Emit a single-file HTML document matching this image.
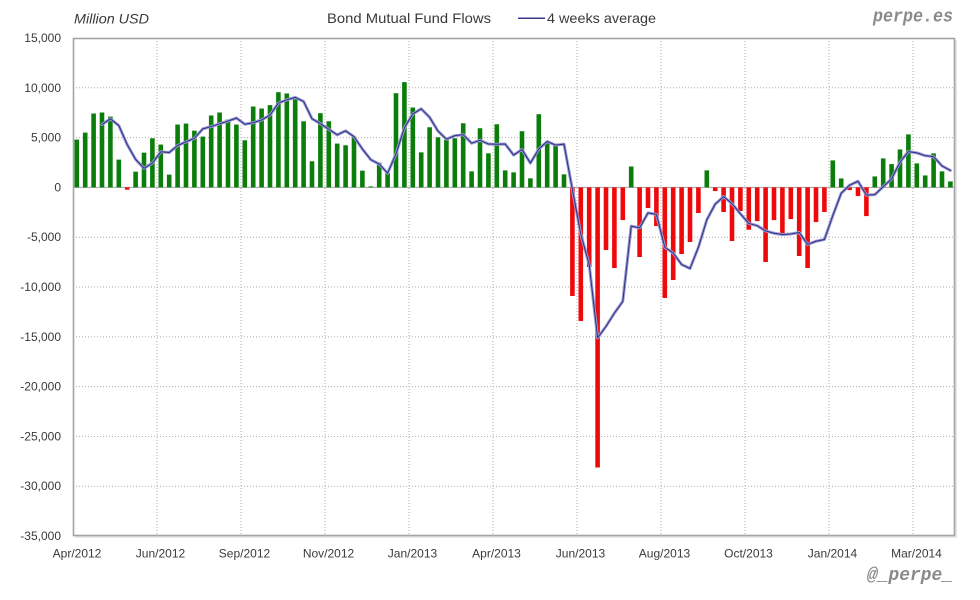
<!DOCTYPE html>
<html>
<head>
<meta charset="utf-8">
<style>
html,body{margin:0;padding:0;background:#fff;}
svg{display:block;}
.t{font-family:"Liberation Sans",Arial,sans-serif;fill:#3a3a3a;}
.m{font-family:"Liberation Mono","DejaVu Sans Mono",monospace;font-weight:bold;font-style:italic;fill:#8a8a8a;}
</style>
</head>
<body>
<svg width="980" height="600" viewBox="0 0 980 600" xmlns="http://www.w3.org/2000/svg">
<defs>
<polyline id="avg" points="102,124.55 110.4,118.8 118.8,125.55 127.2,144.6 135.6,159.39 144,168.4 152.4,163.07 160.8,151.79 169.2,152.54 177.6,145.52 186,141.83 194.4,138.35 202.8,128.84 211.2,126.57 219.6,123.81 228,121.04 236.4,118.03 244.8,124.23 253.2,122.74 261.6,119.97 270,115.12 278.4,103.09 286.8,99.83 295.2,97.41 303.6,101.45 312,118.73 320.4,123.66 328.8,129.26 337.2,134.84 345.6,130.83 354,136.68 362.4,149.03 370.8,159.74 379.2,164.09 387.6,173.21 396,153.83 404.4,127.76 412.8,113.97 421.2,108.79 429.6,117.31 438,131.1 446.4,139.19 454.8,135.68 463.2,134.69 471.6,143.2 480,140.29 488.4,144.05 496.8,144.3 505.2,144.05 513.6,155.08 522,149.55 530.4,163.07 538.8,149.03 547.2,141.51 555.6,145.09 564,144.1 572.4,189.54 580.8,234.21 589.2,264.56 597.6,337.85 606,326.37 614.4,313.12 622.8,301.39 631.2,226.14 639.6,227.89 648,212.9 656.4,214.39 664.8,247.26 673.2,253.01 681.6,264.52 690,268.5 698.4,247.26 706.8,219.84 715.2,204.11 723.6,196.61 732,203.61 740.4,213.77 748.8,223.43 757.2,225.7 765.6,230.95 774,233.22 782.4,234.46 790.8,233.96 799.2,232.47 807.6,244.45 816,241.28 824.4,239.52 832.8,215.61 841.2,193.23 849.6,185.23 858,181.25 866.4,195.17 874.8,194.67 883.2,186.75 891.6,178.76 900,162.1 908.4,151.59 916.8,152.84 925.2,155.68 933.6,156.67 942,165.91 950.4,170.42"/>
</defs>
<rect width="980" height="600" fill="#fff"/>
<rect x="75" y="40" width="882" height="498" fill="#e6e6e6"/>
<rect x="73" y="38" width="882" height="498" fill="#fff"/>
<g stroke="#adadad" stroke-width="1" stroke-dasharray="1,2" fill="none">
<line x1="73" y1="87.8" x2="955" y2="87.8"/>
<line x1="73" y1="137.6" x2="955" y2="137.6"/>
<line x1="73" y1="237.2" x2="955" y2="237.2"/>
<line x1="73" y1="287" x2="955" y2="287"/>
<line x1="73" y1="336.8" x2="955" y2="336.8"/>
<line x1="73" y1="386.6" x2="955" y2="386.6"/>
<line x1="73" y1="436.4" x2="955" y2="436.4"/>
<line x1="73" y1="486.2" x2="955" y2="486.2"/>
<line x1="157" y1="38" x2="157" y2="536"/>
<line x1="241" y1="38" x2="241" y2="536"/>
<line x1="325" y1="38" x2="325" y2="536"/>
<line x1="409" y1="38" x2="409" y2="536"/>
<line x1="493" y1="38" x2="493" y2="536"/>
<line x1="577" y1="38" x2="577" y2="536"/>
<line x1="661" y1="38" x2="661" y2="536"/>
<line x1="745" y1="38" x2="745" y2="536"/>
<line x1="829" y1="38" x2="829" y2="536"/>
<line x1="913" y1="38" x2="913" y2="536"/>
</g>
<line x1="73" y1="187.4" x2="955" y2="187.4" stroke="#a0a0a0" stroke-width="1"/>

<g transform="translate(68.4,187.4) scale(8.4,-0.00996)">
<g fill="#0b7d0b">
<rect x="0.726" y="0" width=".548" height="4800"/>
<rect x="1.726" y="0" width=".548" height="5500"/>
<rect x="2.726" y="0" width=".548" height="7420"/>
<rect x="3.726" y="0" width=".548" height="7520"/>
<rect x="4.726" y="0" width=".548" height="7110"/>
<rect x="5.726" y="0" width=".548" height="2790"/>
<rect x="7.726" y="0" width=".548" height="1580"/>
<rect x="8.726" y="0" width=".548" height="3490"/>
<rect x="9.726" y="0" width=".548" height="4930"/>
<rect x="10.726" y="0" width=".548" height="4300"/>
<rect x="11.726" y="0" width=".548" height="1280"/>
<rect x="12.726" y="0" width=".548" height="6310"/>
<rect x="13.726" y="0" width=".548" height="6410"/>
<rect x="14.726" y="0" width=".548" height="5700"/>
<rect x="15.726" y="0" width=".548" height="5100"/>
<rect x="16.726" y="0" width=".548" height="7220"/>
<rect x="17.726" y="0" width=".548" height="7520"/>
<rect x="18.726" y="0" width=".548" height="6810"/>
<rect x="19.726" y="0" width=".548" height="6310"/>
<rect x="20.726" y="0" width=".548" height="4730"/>
<rect x="21.726" y="0" width=".548" height="8120"/>
<rect x="22.726" y="0" width=".548" height="7920"/>
<rect x="23.726" y="0" width=".548" height="8260"/>
<rect x="24.726" y="0" width=".548" height="9560"/>
<rect x="25.726" y="0" width=".548" height="9430"/>
<rect x="26.726" y="0" width=".548" height="8890"/>
<rect x="27.726" y="0" width=".548" height="6640"/>
<rect x="28.726" y="0" width=".548" height="2620"/>
<rect x="29.726" y="0" width=".548" height="7450"/>
<rect x="30.726" y="0" width=".548" height="6640"/>
<rect x="31.726" y="0" width=".548" height="4400"/>
<rect x="32.726" y="0" width=".548" height="4230"/>
<rect x="33.726" y="0" width=".548" height="5100"/>
<rect x="34.726" y="0" width=".548" height="1680"/>
<rect x="35.726" y="0" width=".548" height="100"/>
<rect x="36.726" y="0" width=".548" height="2480"/>
<rect x="37.726" y="0" width=".548" height="1440"/>
<rect x="38.726" y="0" width=".548" height="9460"/>
<rect x="39.726" y="0" width=".548" height="10570"/>
<rect x="40.726" y="0" width=".548" height="8020"/>
<rect x="41.726" y="0" width=".548" height="3520"/>
<rect x="42.726" y="0" width=".548" height="6040"/>
<rect x="43.726" y="0" width=".548" height="5030"/>
<rect x="44.726" y="0" width=".548" height="4770"/>
<rect x="45.726" y="0" width=".548" height="4930"/>
<rect x="46.726" y="0" width=".548" height="6440"/>
<rect x="47.726" y="0" width=".548" height="1610"/>
<rect x="48.726" y="0" width=".548" height="5940"/>
<rect x="49.726" y="0" width=".548" height="3420"/>
<rect x="50.726" y="0" width=".548" height="6340"/>
<rect x="51.726" y="0" width=".548" height="1710"/>
<rect x="52.726" y="0" width=".548" height="1510"/>
<rect x="53.726" y="0" width=".548" height="5640"/>
<rect x="54.726" y="0" width=".548" height="910"/>
<rect x="55.726" y="0" width=".548" height="7350"/>
<rect x="56.726" y="0" width=".548" height="4530"/>
<rect x="57.726" y="0" width=".548" height="4200"/>
<rect x="58.726" y="0" width=".548" height="1310"/>
<rect x="66.726" y="0" width=".548" height="2100"/>
<rect x="75.726" y="0" width=".548" height="1710"/>
<rect x="90.726" y="0" width=".548" height="2710"/>
<rect x="91.726" y="0" width=".548" height="900"/>
<rect x="95.726" y="0" width=".548" height="1100"/>
<rect x="96.726" y="0" width=".548" height="2910"/>
<rect x="97.726" y="0" width=".548" height="2340"/>
<rect x="98.726" y="0" width=".548" height="3810"/>
<rect x="99.726" y="0" width=".548" height="5320"/>
<rect x="100.726" y="0" width=".548" height="2410"/>
<rect x="101.726" y="0" width=".548" height="1200"/>
<rect x="102.726" y="0" width=".548" height="3410"/>
<rect x="103.726" y="0" width=".548" height="1610"/>
<rect x="104.726" y="0" width=".548" height="600"/>
</g>
<g fill="#ee0a0a">
<rect x="6.726" y="-230" width=".548" height="230"/>
<rect x="59.726" y="-10900" width=".548" height="10900"/>
<rect x="60.726" y="-13410" width=".548" height="13410"/>
<rect x="61.726" y="-7990" width=".548" height="7990"/>
<rect x="62.726" y="-28120" width=".548" height="28120"/>
<rect x="63.726" y="-6290" width=".548" height="6290"/>
<rect x="64.726" y="-8090" width=".548" height="8090"/>
<rect x="65.726" y="-3280" width=".548" height="3280"/>
<rect x="67.726" y="-6990" width=".548" height="6990"/>
<rect x="68.726" y="-2070" width=".548" height="2070"/>
<rect x="69.726" y="-3880" width=".548" height="3880"/>
<rect x="70.726" y="-11100" width=".548" height="11100"/>
<rect x="71.726" y="-9300" width=".548" height="9300"/>
<rect x="72.726" y="-6690" width=".548" height="6690"/>
<rect x="73.726" y="-5480" width=".548" height="5480"/>
<rect x="74.726" y="-2570" width=".548" height="2570"/>
<rect x="76.726" y="-370" width=".548" height="370"/>
<rect x="77.726" y="-2470" width=".548" height="2470"/>
<rect x="78.726" y="-5380" width=".548" height="5380"/>
<rect x="79.726" y="-2370" width=".548" height="2370"/>
<rect x="80.726" y="-4250" width=".548" height="4250"/>
<rect x="81.726" y="-3380" width=".548" height="3380"/>
<rect x="82.726" y="-7490" width=".548" height="7490"/>
<rect x="83.726" y="-3280" width=".548" height="3280"/>
<rect x="84.726" y="-4750" width=".548" height="4750"/>
<rect x="85.726" y="-3180" width=".548" height="3180"/>
<rect x="86.726" y="-6890" width=".548" height="6890"/>
<rect x="87.726" y="-8090" width=".548" height="8090"/>
<rect x="88.726" y="-3480" width=".548" height="3480"/>
<rect x="89.726" y="-2470" width=".548" height="2470"/>
<rect x="92.726" y="-270" width=".548" height="270"/>
<rect x="93.726" y="-870" width=".548" height="870"/>
<rect x="94.726" y="-2880" width=".548" height="2880"/>
</g>
</g>

<g fill="none" stroke-linejoin="round" stroke-linecap="round">
<use href="#avg" stroke="#9a9ad2" stroke-width="3"/>
<use href="#avg" stroke="#2e2e86" stroke-width="1"/>
</g>

<rect x="73.5" y="38.5" width="881" height="497" fill="none" stroke="#a4a4a4" stroke-width="1.6"/>

<g class="t" font-size="12" text-anchor="end">
<text x="61" y="42">15,000</text>
<text x="61" y="91.8">10,000</text>
<text x="61" y="141.6">5,000</text>
<text x="61" y="191.4">0</text>
<text x="61" y="241.2">-5,000</text>
<text x="61" y="291">-10,000</text>
<text x="61" y="340.8">-15,000</text>
<text x="61" y="390.6">-20,000</text>
<text x="61" y="440.4">-25,000</text>
<text x="61" y="490.2">-30,000</text>
<text x="61" y="540">-35,000</text>
</g>
<g class="t" font-size="12" text-anchor="middle">
<text x="77" y="557.5">Apr/2012</text>
<text x="160.5" y="557.5">Jun/2012</text>
<text x="244.5" y="557.5">Sep/2012</text>
<text x="328.5" y="557.5">Nov/2012</text>
<text x="412.5" y="557.5">Jan/2013</text>
<text x="496.5" y="557.5">Apr/2013</text>
<text x="580.5" y="557.5">Jun/2013</text>
<text x="664.5" y="557.5">Aug/2013</text>
<text x="748.5" y="557.5">Oct/2013</text>
<text x="832.5" y="557.5">Jan/2014</text>
<text x="916.5" y="557.5">Mar/2014</text>
</g>

<text class="t" x="74" y="23.5" font-size="14" font-style="italic" textLength="75" lengthAdjust="spacingAndGlyphs">Million USD</text>
<text class="t" x="327" y="23" font-size="14" fill="#222" textLength="164" lengthAdjust="spacingAndGlyphs">Bond Mutual Fund Flows</text>
<line x1="518" y1="18.3" x2="545" y2="18.3" stroke="#3a3a8a" stroke-width="1.5"/>
<text class="t" x="547" y="23" font-size="14" fill="#222" textLength="109" lengthAdjust="spacingAndGlyphs">4 weeks average</text>
<text class="m" x="873" y="21.5" font-size="18" textLength="80" lengthAdjust="spacingAndGlyphs">perpe.es</text>
<text class="m" x="867" y="580" font-size="18" textLength="86" lengthAdjust="spacingAndGlyphs">@_perpe_</text>
</svg>
</body>
</html>
